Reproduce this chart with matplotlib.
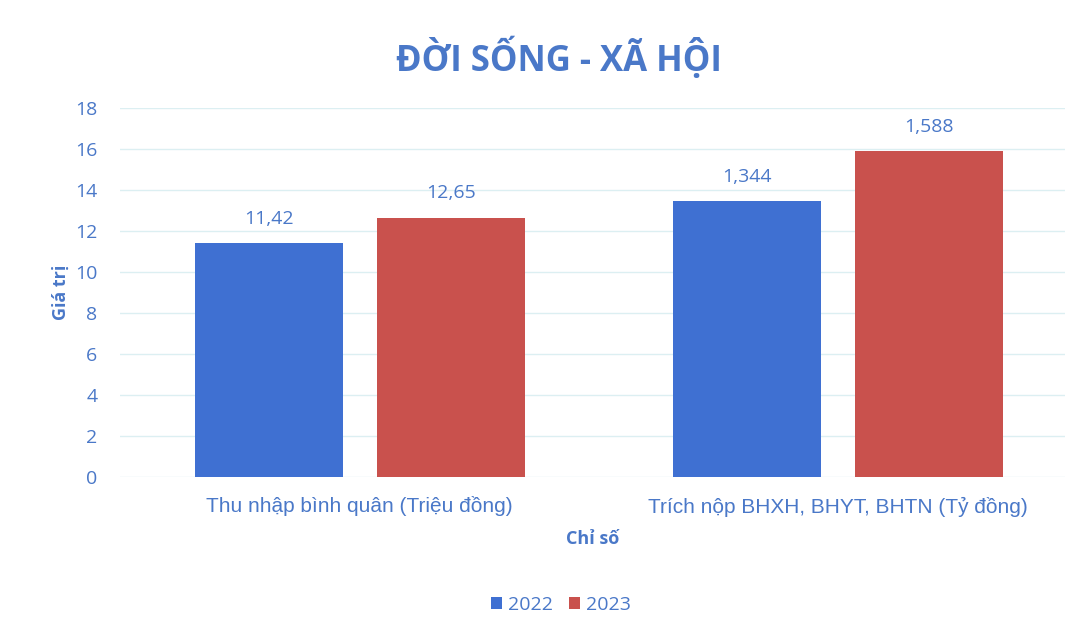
import numpy as np
import matplotlib.pyplot as plt

# Dữ liệu
chi_so = ["Thu nhập bình quân (Triệu đồng)", "Trích nộp BHXH, BHYT, BHTN (Tỷ đồng)"]
nam = ["2022", "2023"]
gia_tri_2022 = [11.42, 13.44]
gia_tri_2023 = [12.65, 15.88]
nhan_2022 = ["11,42", "1,344"]
nhan_2023 = ["12,65", "1,588"]

mau_chu = "#4A78C8"
mau_2022 = "#3F70D2"
mau_2023 = "#C9514D"

plt.rcParams['font.family'] = ['Open Sans', 'DejaVu Sans']

fig = plt.figure(figsize=(10.89, 6.34), dpi=100)
ax = fig.add_axes([0.110, 0.2476, 0.868, 0.5821])

x = np.arange(len(chi_so))
w = 0.31
d = 0.19
b1 = ax.bar(x - d, gia_tri_2022, w, color=mau_2022, label=nam[0], zorder=3)
b2 = ax.bar(x + d, gia_tri_2023, w, color=mau_2023, label=nam[1], zorder=3)

for bars, nhan in [(b1, nhan_2022), (b2, nhan_2023)]:
    for bar, t in zip(bars, nhan):
        ax.text(bar.get_x() + bar.get_width() / 2, bar.get_height() + 0.75, t,
                ha='center', va='bottom', fontsize=14, color=mau_chu)

ax.set_ylim(0, 18)
ax.set_xlim(-0.502, 1.475)
ax.set_yticks(range(0, 19, 2))
ax.yaxis.grid(True, color="#DCEFF2", linewidth=1, zorder=0)
for s in ax.spines.values():
    s.set_visible(False)
ax.tick_params(axis='both', length=0, colors=mau_chu, labelsize=14)
ax.tick_params(axis='y', pad=16)
ax.tick_params(axis='x', pad=14)
ax.set_xticks(x)
ax.set_xticklabels(chi_so, fontsize=15, family=['Liberation Sans', 'DejaVu Sans'])

ax.set_ylabel("Giá trị", fontsize=13, fontweight='bold', color=mau_chu, labelpad=4)
ax.set_xlabel("Chỉ số", fontsize=13, fontweight='bold', color=mau_chu, labelpad=10)

fig.suptitle("ĐỜI SỐNG - XÃ HỘI", x=0.513, y=0.94, fontsize=25, fontweight='bold', color=mau_chu)

leg = fig.legend(loc='center', bbox_to_anchor=(0.515, 0.046), ncol=2, frameon=False,
                 fontsize=14, handlelength=0.6, handleheight=0.6, handletextpad=0.3,
                 columnspacing=0.8)
for t in leg.get_texts():
    t.set_color(mau_chu)

fig.savefig("out.png", dpi=100)
